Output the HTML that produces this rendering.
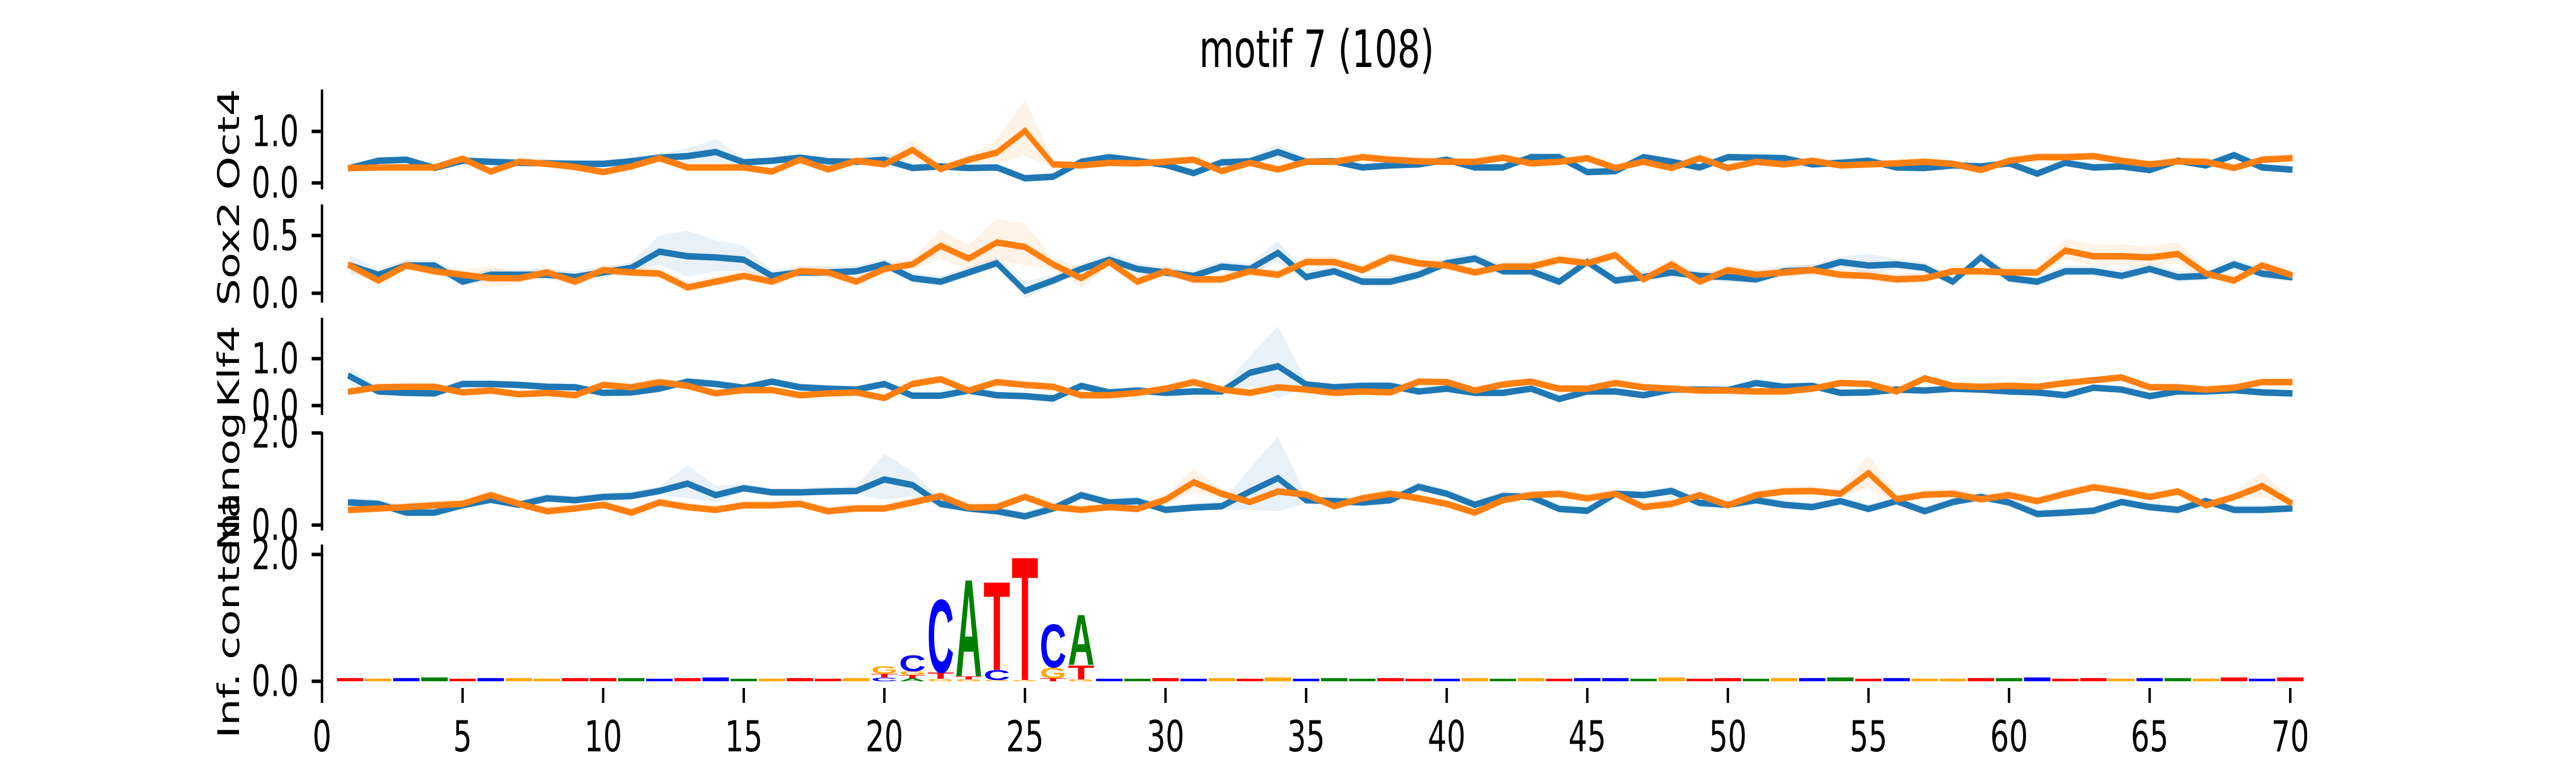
<!DOCTYPE html>
<html><head><meta charset="utf-8">
<style>
html,body{margin:0;padding:0;background:#fff;width:100%;height:100%;overflow:hidden;}
svg{display:block;width:100vw;height:100vh;font-family:"DejaVu Sans","Liberation Sans",sans-serif;}
</style></head>
<body>
<svg id="chart" xmlns="http://www.w3.org/2000/svg" viewBox="0 0 7200 1500" preserveAspectRatio="none">
<rect width="7200" height="1500" fill="#fff"/>
<text x="3680" y="130" font-size="100" text-anchor="middle">motif 7 (108)</text>
</svg>
<script>
// ---------- data ----------
const positions = Array.from({length:70},(_,i)=>i+1);
const xTicks = [0,5,10,15,20,25,30,35,40,45,50,55,60,65,70];
const panelNames = ["Oct4","Sox2","Klf4","Nanog"];

const oct4Blue = [0.29,0.43,0.45,0.29,0.43,0.41,0.39,0.38,0.37,0.37,0.42,0.49,0.52,0.60,0.40,0.43,0.49,0.42,
0.41,0.45,0.29,0.32,0.29,0.30,0.09,0.12,0.41,0.50,0.43,0.35,0.19,0.40,0.42,0.60,0.41,
0.42,0.30,0.34,0.36,0.45,0.30,0.30,0.50,0.50,0.21,0.23,0.50,0.41,0.30,0.50,0.49,0.48,
0.36,0.39,0.43,0.30,0.29,0.34,0.32,0.38,0.18,0.39,0.30,0.32,0.25,0.43,0.34,0.54,0.30,0.26];
const oct4Orange = [0.29,0.30,0.30,0.30,0.47,0.22,0.41,0.37,0.31,0.21,0.32,0.48,0.30,0.30,0.30,0.22,0.45,0.26,
0.43,0.36,0.64,0.27,0.45,0.59,1.01,0.36,0.34,0.39,0.38,0.41,0.45,0.23,0.39,0.26,0.41,
0.41,0.50,0.45,0.42,0.41,0.41,0.49,0.38,0.41,0.48,0.29,0.41,0.29,0.48,0.29,0.41,0.36,
0.43,0.34,0.36,0.38,0.41,0.37,0.25,0.43,0.50,0.50,0.52,0.43,0.36,0.42,0.41,0.29,0.45,0.48];
const sox2Blue = [0.24,0.16,0.24,0.24,0.10,0.16,0.16,0.16,0.14,0.18,0.22,0.36,0.32,0.31,0.29,0.15,0.18,0.18,
0.19,0.25,0.13,0.10,0.18,0.26,0.02,0.11,0.21,0.29,0.21,0.18,0.15,0.23,0.21,0.35,0.14,
0.19,0.10,0.10,0.16,0.26,0.30,0.19,0.19,0.10,0.27,0.11,0.14,0.18,0.15,0.14,0.12,0.19,
0.20,0.27,0.24,0.25,0.22,0.10,0.31,0.13,0.10,0.19,0.19,0.15,0.21,0.14,0.15,0.25,0.17,0.14];
const sox2Orange = [0.24,0.11,0.24,0.19,0.16,0.13,0.13,0.18,0.10,0.20,0.18,0.17,0.05,0.10,0.15,0.10,0.19,0.18,
0.10,0.21,0.25,0.41,0.30,0.44,0.40,0.25,0.13,0.27,0.10,0.19,0.12,0.12,0.19,0.16,0.27,
0.27,0.20,0.31,0.26,0.24,0.18,0.23,0.23,0.29,0.26,0.33,0.12,0.25,0.10,0.20,0.16,0.18,
0.20,0.16,0.15,0.12,0.13,0.19,0.19,0.18,0.18,0.37,0.32,0.32,0.31,0.34,0.17,0.11,0.24,0.16];
const klf4Blue = [0.62,0.30,0.27,0.26,0.46,0.46,0.44,0.40,0.39,0.27,0.28,0.36,0.51,0.46,0.38,0.51,0.39,0.36,
0.34,0.46,0.21,0.21,0.32,0.22,0.20,0.15,0.42,0.28,0.32,0.27,0.30,0.30,0.70,0.84,0.45,
0.39,0.42,0.42,0.30,0.36,0.27,0.27,0.36,0.14,0.30,0.30,0.22,0.34,0.34,0.33,0.48,0.40,
0.42,0.27,0.28,0.34,0.32,0.36,0.34,0.30,0.28,0.22,0.38,0.34,0.20,0.30,0.30,0.33,0.28,0.26];
const klf4Orange = [0.30,0.39,0.40,0.40,0.28,0.32,0.24,0.27,0.22,0.44,0.39,0.50,0.42,0.26,0.33,0.33,0.22,0.26,
0.28,0.16,0.46,0.56,0.32,0.50,0.44,0.40,0.22,0.22,0.27,0.36,0.50,0.34,0.27,0.39,0.34,
0.27,0.30,0.28,0.51,0.50,0.32,0.45,0.51,0.36,0.36,0.48,0.39,0.36,0.32,0.32,0.30,0.30,
0.36,0.48,0.46,0.30,0.58,0.42,0.40,0.42,0.40,0.48,0.54,0.60,0.39,0.39,0.34,0.38,0.50,0.50];
const nanogBlue = [0.49,0.46,0.27,0.27,0.43,0.55,0.44,0.58,0.54,0.61,0.63,0.74,0.90,0.65,0.80,0.71,0.71,0.73,
0.74,0.99,0.87,0.46,0.36,0.30,0.19,0.36,0.65,0.49,0.52,0.33,0.38,0.41,0.73,1.02,0.54,
0.52,0.49,0.54,0.83,0.68,0.44,0.63,0.61,0.35,0.31,0.68,0.65,0.74,0.48,0.44,0.54,0.44,
0.39,0.52,0.35,0.52,0.30,0.50,0.61,0.49,0.24,0.27,0.31,0.50,0.39,0.33,0.52,0.33,0.33,0.36];
const nanogOrange = [0.33,0.36,0.39,0.43,0.46,0.65,0.46,0.30,0.36,0.44,0.27,0.49,0.39,0.33,0.43,0.43,0.46,0.30,
0.36,0.36,0.49,0.63,0.38,0.39,0.61,0.39,0.33,0.39,0.35,0.55,0.93,0.68,0.50,0.73,0.66,
0.41,0.58,0.68,0.58,0.46,0.27,0.54,0.65,0.68,0.58,0.68,0.39,0.46,0.65,0.43,0.65,0.73,
0.74,0.68,1.13,0.56,0.66,0.68,0.56,0.65,0.52,0.68,0.82,0.73,0.61,0.73,0.43,0.61,0.85,0.49];

// confidence half-widths: default + per-position overrides
const ciDefault = [0.08,0.05,0.08,0.1];
const oct4BlueCI = {13:0.15,14:0.25,20:0.15,34:0.15};
const oct4OrangeCI = {21:0.2,24:0.25,25:0.6};
const sox2BlueCI = {1:0.09,12:0.14,13:0.22,14:0.15,15:0.12,25:0.08,34:0.1,55:0.1};
const sox2OrangeCI = {6:0.1,22:0.14,23:0.12,24:0.2,25:0.2,27:0.1,62:0.1,63:0.1,64:0.1,65:0.1,66:0.1};
const klf4BlueCI = {1:0.2,33:0.35,34:0.85};
const klf4OrangeCI = {};
const nanogBlueCI = {13:0.4,14:0.2,20:0.55,21:0.3,33:0.5,34:0.9};
const nanogOrangeCI = {31:0.3,55:0.4,69:0.3};

// sequence logo: stacked letters (bottom -> top)
const logoPos = [20,20,20,21,21,21,21,22,22,22,23,23,23,24,24,24,25,25,26,26,26,27,27,27];
const logoLetters = ["C","T","G","A","T","G","C","G","T","C","G","T","A","G","C","T","G","T","T","G","C","G","T","A"];
const logoHeights = [0.06,0.06,0.12,0.05,0.05,0.06,0.26,0.04,0.10,1.19,0.03,0.05,1.58,0.02,0.16,1.44,0.02,2.01,0.05,0.17,0.70,0.03,0.23,0.82];
const noiseLetters = "TGCATCGGTTACTCAGTTGACGTCTAGCATCGTGCAATTCGAGTCCAGTTAGCATCGGTACTTGCAGTCT";
const noiseHeights = [0.05,0.04,0.05,0.06,0.04,0.05,0.05,0.04,0.05,0.05,0.05,0.04,0.05,0.06,0.04,0.04,0.05,0.04,0.05,0,0,0,0,0,0,0,0,0.04,0.04,0.05,0.04,0.05,0.04,0.06,0.04,0.05,0.04,0.05,0.04,0.04,0.05,0.04,0.05,0.04,0.05,0.05,0.04,0.06,0.04,0.05,0.04,0.05,0.05,0.06,0.04,0.05,0.04,0.04,0.05,0.05,0.06,0.04,0.05,0.04,0.05,0.05,0.04,0.06,0.04,0.06];

// ---------- layout ----------
const NS="http://www.w3.org/2000/svg";
const svg=document.getElementById("chart");
function mk(tag,attrs,parent){const e=document.createElementNS(NS,tag);for(const k in attrs)e.setAttribute(k,attrs[k]);(parent||svg).appendChild(e);return e;}
const X0=900, XU=78.59;
function xs(v){return X0+XU*v;}
const panels=[
 {name:"Oct4",top:177,bot:364,dmin:-0.09,dmax:1.78,ticks:[0,1],tl:["0.0","1.0"],blue:oct4Blue,orange:oct4Orange,bci:oct4BlueCI,oci:oct4OrangeCI},
 {name:"Sox2",top:400,bot:584,dmin:-0.067,dmax:0.754,ticks:[0,0.5],tl:["0.0","0.5"],blue:sox2Blue,orange:sox2Orange,bci:sox2BlueCI,oci:sox2OrangeCI},
 {name:"Klf4",top:620,bot:802,dmin:-0.165,dmax:1.835,ticks:[0,1],tl:["0.0","1.0"],blue:klf4Blue,orange:klf4Orange,bci:klf4BlueCI,oci:klf4OrangeCI},
 {name:"Nanog",top:842,bot:1026,dmin:-0.08,dmax:1.98,ticks:[0,2],tl:["0.0","2.0"],blue:nanogBlue,orange:nanogOrange,bci:nanogBlueCI,oci:nanogOrangeCI}
];
function yScale(p){return v=>p.bot-(v-p.dmin)/(p.dmax-p.dmin)*(p.bot-p.top);}

function drawAxis(p,ys,label){
  const sp=mk("line",{x1:X0,x2:X0,y1:p.top,y2:p.bot,stroke:"#000","stroke-width":6.7,"stroke-linecap":"square"});
  
  
  p.ticks.forEach((t,i)=>{
    const tk=mk("line",{x1:X0-29,x2:X0,y1:ys(t),y2:ys(t),stroke:"#000","stroke-width":6.7});
    
    
    const tx=mk("text",{x:835,y:ys(t),"font-size":83,"text-anchor":"end","dominant-baseline":"central"});
    tx.textContent=p.tl[i];
    
    
  });
  const yl=mk("text",{x:0,y:0,"font-size":83,"text-anchor":"middle","dominant-baseline":"central",transform:`translate(640,${(p.top+p.bot)/2}) rotate(-90)`});
  yl.textContent=label;
  
  
}

panels.forEach((p,pi)=>{
  const ys=yScale(p);
  const g=mk("g",{});
  
  
  [[p.blue,p.bci,"#1f77b4","blue"],[p.orange,p.oci,"#ff7f0e","orange"]].forEach(([vals,ci,col,nm])=>{
    const hw=positions.map(k=>(ci[k]!==undefined?ci[k]:ciDefault[pi]));
    const up=positions.map((k,i)=>xs(k)+","+ys(vals[i]+hw[i]));
    const lo=positions.map((k,i)=>xs(k)+","+ys(Math.max(vals[i]-hw[i]*0.8,p.dmin))).reverse();
    const band=mk("polygon",{points:up.concat(lo).join(" "),fill:col,"fill-opacity":0.1,stroke:"none"},g);
    
    
  });
  [[p.blue,"#1f77b4","blue"],[p.orange,"#ff7f0e","orange"]].forEach(([vals,col,nm])=>{
    const pts=positions.map((k,i)=>xs(k)+","+ys(vals[i])).join(" ");
    const ln=mk("polyline",{points:pts,fill:"none",stroke:col,"stroke-width":12.5,"stroke-linejoin":"miter","stroke-linecap":"square"},g);
    
    
  });
  drawAxis(p,ys,p.name);
});

// ---------- logo panel ----------
const logo={top:1060,bot:1335,dmin:-0.106,dmax:2.13,ticks:[0,2],tl:["0.0","2.0"]};
const ly=yScale(logo);
const colors={A:"#008000",C:"#0000ff",G:"#ffa500",T:"#ff0000"};
const lg=mk("g",{});


function letter(ch,k,b,h){
  if(h<=0)return;
  const w=XU*0.95;
  const yb=ly(b), yt=ly(b+h), hp=yb-yt;
  const t=mk("text",{x:0,y:0,"font-size":100,"font-family":"Liberation Sans, sans-serif","font-weight":"bold",fill:colors[ch],textLength:100,lengthAdjust:"spacingAndGlyphs",transform:`translate(${xs(k)-w/2},${yb}) scale(${w/100},${hp/72})`},lg);
  t.textContent=ch;
  
  
}
positions.forEach((k,i)=>{
  const h=noiseHeights[i];
  if(h<=0)return;
  const r=mk("rect",{x:xs(k)-XU*0.47,y:ly(h),width:XU*0.94,height:ly(0)-ly(h),fill:colors[noiseLetters[i]]},lg);
  
  
});
const stackTop={};
logoPos.forEach((k,i)=>{const b=stackTop[k]||0; letter(logoLetters[i],k,b,logoHeights[i]); stackTop[k]=b+logoHeights[i];});
drawAxis(logo,ly,"Inf. content");

// x axis ticks
xTicks.forEach(t=>{
  const tk=mk("line",{x1:xs(t),x2:xs(t),y1:1335,y2:1364,stroke:"#000","stroke-width":6.7});
  
  
  const tx=mk("text",{x:xs(t),y:1458,"font-size":83,"text-anchor":"middle"});
  tx.textContent=String(t);
  
  
});
</script>
</body></html>
